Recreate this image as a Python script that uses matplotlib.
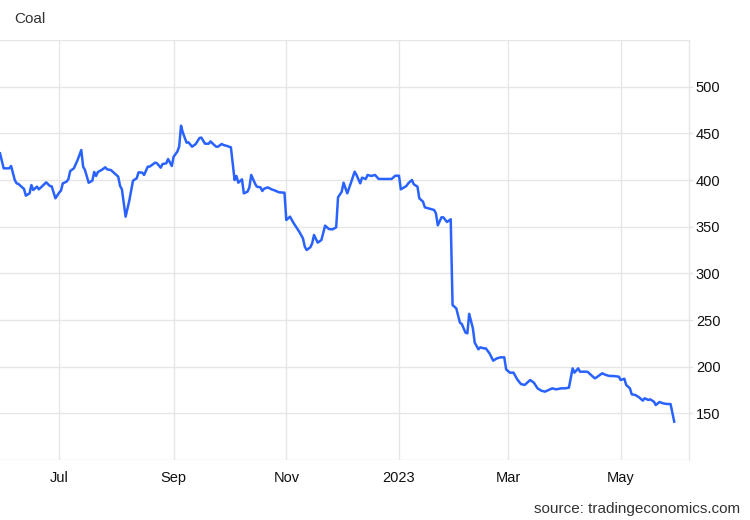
import matplotlib
matplotlib.use("Agg")
import matplotlib.pyplot as plt
import matplotlib.dates as mdates
import numpy as np
import pandas as pd

plt.rcParams['font.family'] = ['Liberation Sans', 'DejaVu Sans']

dates = [
    "2022-05-30", "2022-06-01", "2022-06-04", "2022-06-05", "2022-06-07", "2022-06-08",
    "2022-06-09", "2022-06-12", "2022-06-13", "2022-06-15", "2022-06-16", "2022-06-17",
    "2022-06-19", "2022-06-20", "2022-06-22", "2022-06-24", "2022-06-26", "2022-06-27",
    "2022-06-29", "2022-07-01", "2022-07-02", "2022-07-03", "2022-07-05", "2022-07-06",
    "2022-07-07", "2022-07-09", "2022-07-11", "2022-07-13", "2022-07-14", "2022-07-15",
    "2022-07-17", "2022-07-19", "2022-07-20", "2022-07-21", "2022-07-22", "2022-07-24",
    "2022-07-26", "2022-07-27", "2022-07-29", "2022-07-31", "2022-08-02", "2022-08-03",
    "2022-08-04", "2022-08-06", "2022-08-08", "2022-08-10", "2022-08-12", "2022-08-13",
    "2022-08-15", "2022-08-16", "2022-08-18", "2022-08-19", "2022-08-22", "2022-08-23",
    "2022-08-25", "2022-08-26", "2022-08-28", "2022-08-29", "2022-08-31",
    "2022-09-01", "2022-09-03", "2022-09-04", "2022-09-05", "2022-09-06", "2022-09-08",
    "2022-09-09", "2022-09-11", "2022-09-13", "2022-09-15", "2022-09-16", "2022-09-18",
    "2022-09-20", "2022-09-21", "2022-09-22", "2022-09-24", "2022-09-25", "2022-09-27",
    "2022-09-28", "2022-09-30", "2022-10-02", "2022-10-04", "2022-10-05", "2022-10-06",
    "2022-10-08", "2022-10-09", "2022-10-11", "2022-10-12", "2022-10-13", "2022-10-15",
    "2022-10-16", "2022-10-18", "2022-10-19", "2022-10-20", "2022-10-22", "2022-10-24",
    "2022-10-26", "2022-10-28", "2022-10-31", "2022-11-01", "2022-11-03", "2022-11-05",
    "2022-11-08", "2022-11-10", "2022-11-11", "2022-11-12", "2022-11-14", "2022-11-15",
    "2022-11-16", "2022-11-18", "2022-11-20", "2022-11-22", "2022-11-24", "2022-11-26",
    "2022-11-28", "2022-11-29", "2022-12-01", "2022-12-02", "2022-12-04", "2022-12-06",
    "2022-12-08", "2022-12-09", "2022-12-11", "2022-12-12", "2022-12-14", "2022-12-15",
    "2022-12-17", "2022-12-19", "2022-12-21", "2022-12-23", "2022-12-26", "2022-12-28",
    "2022-12-30", "2023-01-01", "2023-01-02", "2023-01-05", "2023-01-06", "2023-01-08",
    "2023-01-09", "2023-01-11", "2023-01-12", "2023-01-14", "2023-01-15", "2023-01-17",
    "2023-01-20", "2023-01-21", "2023-01-22", "2023-01-24", "2023-01-25", "2023-01-27",
    "2023-01-28", "2023-01-29", "2023-01-30", "2023-02-01", "2023-02-03", "2023-02-04",
    "2023-02-06", "2023-02-07", "2023-02-08", "2023-02-10", "2023-02-11", "2023-02-13",
    "2023-02-14", "2023-02-16", "2023-02-17", "2023-02-19", "2023-02-21", "2023-02-23",
    "2023-02-25", "2023-02-27", "2023-02-28", "2023-03-02", "2023-03-04", "2023-03-06",
    "2023-03-08", "2023-03-10", "2023-03-11", "2023-03-13", "2023-03-15", "2023-03-17",
    "2023-03-19", "2023-03-21", "2023-03-23", "2023-03-25", "2023-03-27", "2023-03-30",
    "2023-04-01", "2023-04-03", "2023-04-05", "2023-04-06", "2023-04-08", "2023-04-09",
    "2023-04-11", "2023-04-13", "2023-04-15", "2023-04-17", "2023-04-18", "2023-04-21",
    "2023-04-23", "2023-04-25", "2023-04-27", "2023-04-30", "2023-05-01", "2023-05-03",
    "2023-05-04", "2023-05-06", "2023-05-07", "2023-05-09", "2023-05-11", "2023-05-13",
    "2023-05-14", "2023-05-16", "2023-05-17", "2023-05-19", "2023-05-20", "2023-05-22",
    "2023-05-24", "2023-05-26", "2023-05-28", "2023-05-30",
]

prices = [
    428.6, 412.5, 412.5, 415.0, 400.0, 396.4,
    395.7, 390.4, 383.2, 385.7, 394.6, 389.3,
    392.9, 390.0, 393.6, 397.5, 393.6, 393.2,
    380.4, 386.4, 388.6, 396.4, 398.2, 400.7,
    409.6, 412.5, 421.4, 432.1, 414.3, 410.7,
    397.1, 399.3, 408.6, 404.3, 408.6, 410.7,
    413.6, 411.4, 410.7, 407.1, 403.6, 393.6,
    390.0, 360.7, 377.9, 399.3, 401.8, 408.2,
    407.9, 405.4, 414.3, 414.3, 418.6, 417.9,
    413.2, 417.1, 417.9, 422.5, 415.0,
    425.0, 430.4, 435.7, 458.2, 450.7, 440.0,
    440.4, 435.7, 438.6, 445.0, 445.4, 438.9,
    438.9, 441.4, 439.3, 435.7, 435.7, 438.6,
    437.5, 436.4, 435.0, 400.0, 404.3, 397.1,
    400.7, 385.7, 387.5, 392.1, 405.4, 396.4,
    392.9, 392.1, 388.2, 390.7, 392.1, 390.0,
    388.6, 386.8, 386.4, 357.1, 360.7, 353.6,
    344.6, 337.5, 328.6, 325.0, 327.9, 332.1,
    341.1, 332.9, 335.7, 351.1, 347.5, 347.1,
    349.3, 381.4, 387.5, 397.1, 385.7, 397.1,
    408.9, 405.4, 396.4, 402.5, 401.1, 405.4,
    404.3, 405.4, 401.1, 401.1, 401.1, 401.1,
    404.6, 404.6, 390.0, 393.6, 396.4, 400.0,
    395.4, 392.9, 380.4, 376.8, 370.7, 369.6,
    367.9, 364.3, 351.4, 360.0, 360.0, 355.0,
    356.4, 357.9, 266.0, 262.5, 247.1, 245.7,
    236.4, 235.7, 256.6, 241.1, 225.7, 218.6,
    220.7, 219.6, 219.6, 214.3, 206.4, 208.9,
    210.0, 210.0, 197.1, 193.6, 193.6, 186.4,
    181.4, 180.4, 182.1, 185.7, 182.9, 176.8,
    174.3, 173.2, 175.0, 176.8, 175.7, 176.8,
    176.8, 177.5, 198.2, 193.6, 198.2, 194.6,
    194.6, 194.6, 191.1, 187.5, 188.6, 192.9,
    191.1, 190.0, 190.0, 189.3, 185.7, 187.1,
    180.4, 176.8, 170.4, 169.6, 167.1, 163.6,
    166.1, 164.3, 165.0, 162.5, 158.9, 162.1,
    160.7, 160.0, 160.0, 141.1,
]

tick_dates = ["2022-07-01", "2022-09-01", "2022-11-01", "2023-01-01", "2023-03-01", "2023-05-01"]
tick_labels = ["Jul", "Sep", "Nov", "2023", "Mar", "May"]
y_ticks = [150, 200, 250, 300, 350, 400, 450, 500]
title = "Coal"
source = "source: tradingeconomics.com"

x = pd.to_datetime(dates)

fig = plt.figure(figsize=(7.5, 5.2), dpi=100)
ax = fig.add_axes([0.0, 60 / 520, 689 / 750, 420 / 520])

grid_c = "#e6e6e6"
for v in [100, 150, 200, 250, 300, 350, 400, 450, 500, 550]:
    ax.axhline(v, color=grid_c, lw=1.0, zorder=0)
for d in pd.to_datetime(tick_dates):
    ax.axvline(d, color=grid_c, lw=1.0, zorder=0)

ax.plot(x, prices, color="#2962ff", lw=1.8, zorder=3, solid_joinstyle="round")

ax.set_xlim(x[0], pd.Timestamp("2023-06-07"))
ax.set_ylim(100, 550)

ax.set_xticks(pd.to_datetime(tick_dates))
ax.set_xticklabels(tick_labels)
ax.yaxis.tick_right()
ax.set_yticks(y_ticks)
ax.set_yticklabels([str(v) for v in y_ticks])

for s in ["top", "left", "bottom"]:
    ax.spines[s].set_visible(False)
ax.spines["right"].set_color(grid_c)
ax.spines["right"].set_linewidth(1.0)

ax.tick_params(axis="x", length=0, pad=8, labelsize=10.5, colors="#111111")
ax.tick_params(axis="y", length=3, width=1.0, color=grid_c, pad=2, labelsize=10.5, labelcolor="#111111")

fig.text(14 / 750, 1 - 19 / 520, title, ha="left", va="center", fontsize=11, color="#333333")
fig.text(740 / 750, 1 - 509 / 520, source, ha="right", va="center", fontsize=11, color="#333333")

fig.savefig("out.png", dpi=100)
